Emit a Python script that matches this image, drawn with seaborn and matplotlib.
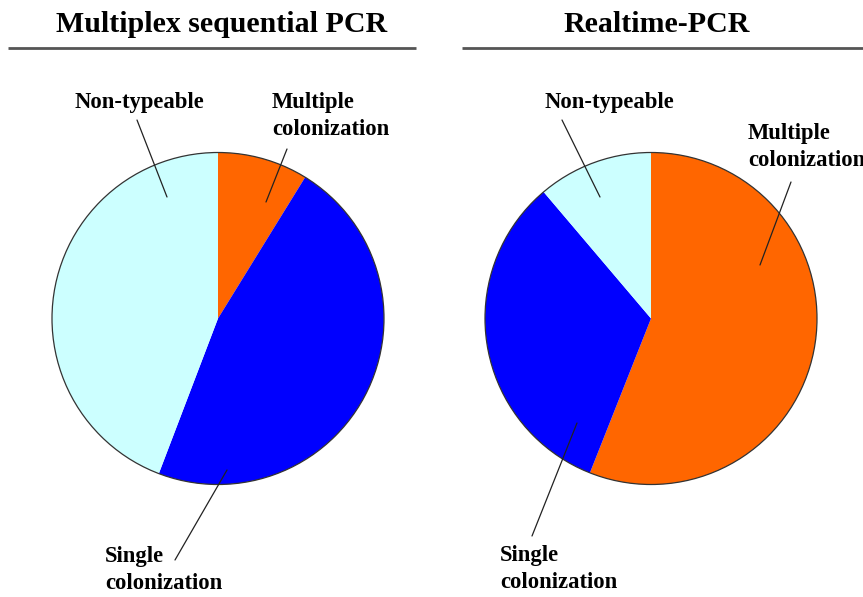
import matplotlib
matplotlib.use("Agg")
import matplotlib.pyplot as plt
import seaborn as sns

# ---- data ----
titles = ["Multiplex sequential PCR", "Realtime-PCR"]
categories = ["Multiple\ncolonization", "Single\ncolonization", "Non-typeable"]
multiplex_values = [8.8, 47.0, 44.2]
realtime_values = [56.0, 32.8, 11.2]
colors = ["#FF6600", "#0000FF", "#CCFFFF"]

sns.set_theme(style="white")
plt.rcParams["font.family"] = ["Liberation Serif", "DejaVu Serif"]

W, H = 863, 597
fig = plt.figure(figsize=(W / 100, H / 100), dpi=100)
ax = fig.add_axes([0, 0, 1, 1])


def py(y):
    return H - y


centers = [(218, 318.5), (651, 318.5)]
radius = 166
title_x = [222, 657]
underline_x = [(8, 416), (462, 866)]

# label layout (pixel positions): text left/top, line start (near text), line end (inside pie)
label_layout = [
    {  # left pie
        "Multiple\ncolonization": ((272, 92), (287, 149), (266, 202)),
        "Single\ncolonization": ((105, 546), (227, 470), (175, 560)),
        "Non-typeable": ((75, 92), (137, 120), (167, 197)),
    },
    {  # right pie
        "Multiple\ncolonization": ((748, 123), (791, 182), (760, 265)),
        "Single\ncolonization": ((500, 545), (577, 423), (532, 536)),
        "Non-typeable": ((545, 92), (562, 120), (600, 197)),
    },
]

for i, vals in enumerate([multiplex_values, realtime_values]):
    cx, cy = centers[i]
    wedges, _ = ax.pie(vals, colors=colors, startangle=90, counterclock=False,
                       center=(cx, py(cy)), radius=radius, frame=True,
                       wedgeprops=dict(linewidth=0))
    circ = plt.Circle((cx, py(cy)), radius, fill=False, edgecolor="#333333", linewidth=0.9)
    ax.add_patch(circ)
    ax.text(title_x[i], py(25), titles[i], ha="center", va="center",
            fontsize=21.5, fontweight="bold", color="black")
    x0, x1 = underline_x[i]
    ax.plot([x0, x1], [py(48), py(48)], color="#555555", linewidth=2, solid_capstyle="butt")
    for cat in categories:
        (tx, ty), (l0x, l0y), (l1x, l1y) = label_layout[i][cat]
        ax.text(tx, py(ty), cat, ha="left", va="top", fontsize=16.3,
                fontweight="bold", color="black", linespacing=1.38)
        ax.plot([l0x, l1x], [py(l0y), py(l1y)], color="#222222", linewidth=0.9)

ax.set_xlim(0, W)
ax.set_ylim(0, H)
ax.set_aspect("equal")
ax.axis("off")
fig.savefig("out.png", dpi=100, facecolor="white")
